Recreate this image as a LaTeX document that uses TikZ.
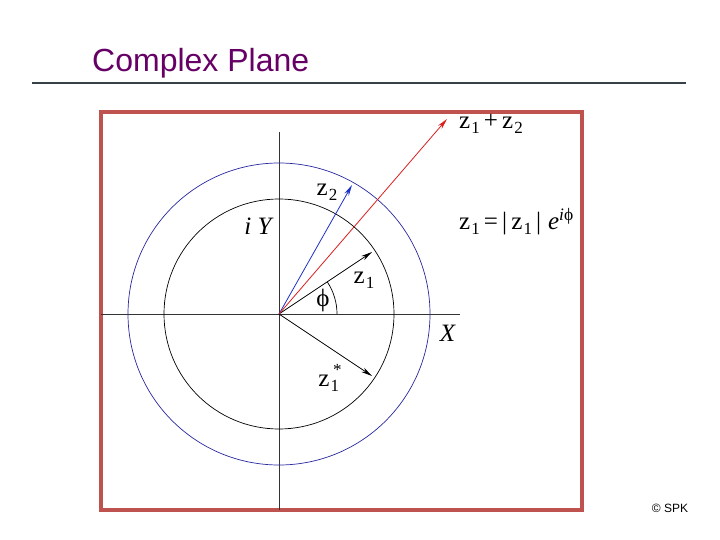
\documentclass[tikz,border=0pt]{standalone}
\usepackage{fontspec}
\setsansfont{Liberation Sans}
\setmainfont{Liberation Serif}
\usetikzlibrary{arrows.meta}
\definecolor{titlepurple}{RGB}{102,0,102}
\definecolor{boxred}{RGB}{190,82,78}
\definecolor{rulegray}{RGB}{55,65,72}
\definecolor{circblue}{RGB}{40,40,160}
\definecolor{vecred}{RGB}{220,30,30}
\definecolor{vecblue}{RGB}{30,50,200}
\newcommand{\sbx}[1]{\raisebox{-5pt}{\fontsize{17}{18}\selectfont #1}}
\newcommand{\zsub}[1]{z\kern1pt\sbx{#1}}
\tikzset{
  axisline/.style={draw=black!80, line width=0.7pt},
  vec/.style={line width=0.8pt, -{Stealth[length=11pt,width=5pt]}},
  lbl/.style={inner sep=0pt, font=\fontsize{25}{27}\selectfont},
}
\begin{document}
\begin{tikzpicture}[x=1pt,y=-1pt]
\useasboundingbox[fill=white] (0,0) rectangle (720,540);
% title and rule
\node[anchor=base west, inner sep=0pt, text=titlepurple, font=\sffamily\fontsize{32}{34}\selectfont] (title) at (92,72) {Complex Plane};
\draw[rulegray, line width=2pt] (32,83) -- (686,83);
% frame
\draw[boxred, line width=3.5pt] (101,112) rectangle (582,510);
% origin and axes
\coordinate (O) at (279,314);
\coordinate (ytop) at (279,132);
\coordinate (ybot) at (279,510);
\coordinate (xl) at (101,314);
\coordinate (xr) at (460,314);
\draw[axisline] (ytop) -- (ybot);
\draw[axisline] (xl) -- (xr);
% circles
\draw[black, line width=0.7pt] (O) circle[radius=115];
\draw[circblue, line width=0.7pt] (O) circle[radius=151];
% angle arc
\draw[black, line width=0.7pt] (337,314) arc[start angle=0, end angle=-33.7, radius=58];
% vector tips
\coordinate (z1) at (372,252);
\coordinate (z1c) at (372,376);
\coordinate (z2) at (352,185);
\coordinate (zs) at (447,119);
\draw[vec, black] (O) -- (z1);
\draw[vec, black] (O) -- (z1c);
\draw[vec, vecblue] (O) -- (z2);
\draw[vec, vecred] (O) -- (zs);
% labels
\node[lbl] (lz2) at (327,192) {\zsub{2}};
\node[lbl] (liy) at (259,226) {\textit{i Y}};
\node[lbl] (lz1) at (364,280) {\zsub{1}};
\node[lbl] (lphi) at (323,300) {ϕ};
\node[lbl] (lx) at (448,333) {\textit{X}};
\node[lbl] (lz1c) at (330,378) {z\kern1pt\sbx{1}\raisebox{11pt}{\kern-6pt\fontsize{17}{18}\selectfont *}};
\node[lbl, anchor=west] (lsum) at (459,124) {\zsub{1}\,+\,\zsub{2}};
\node[lbl, anchor=west] (lform) at (459,222) {\zsub{1}\,=\,|\,\zsub{1}\,|\;\textit{e}\textsuperscript{\textit{i}ϕ}};
\node[anchor=center, inner sep=0pt, font=\sffamily\fontsize{12}{13}\selectfont] (copy) at (670,508) {\textcopyright\ SPK};
\end{tikzpicture}
\end{document}
